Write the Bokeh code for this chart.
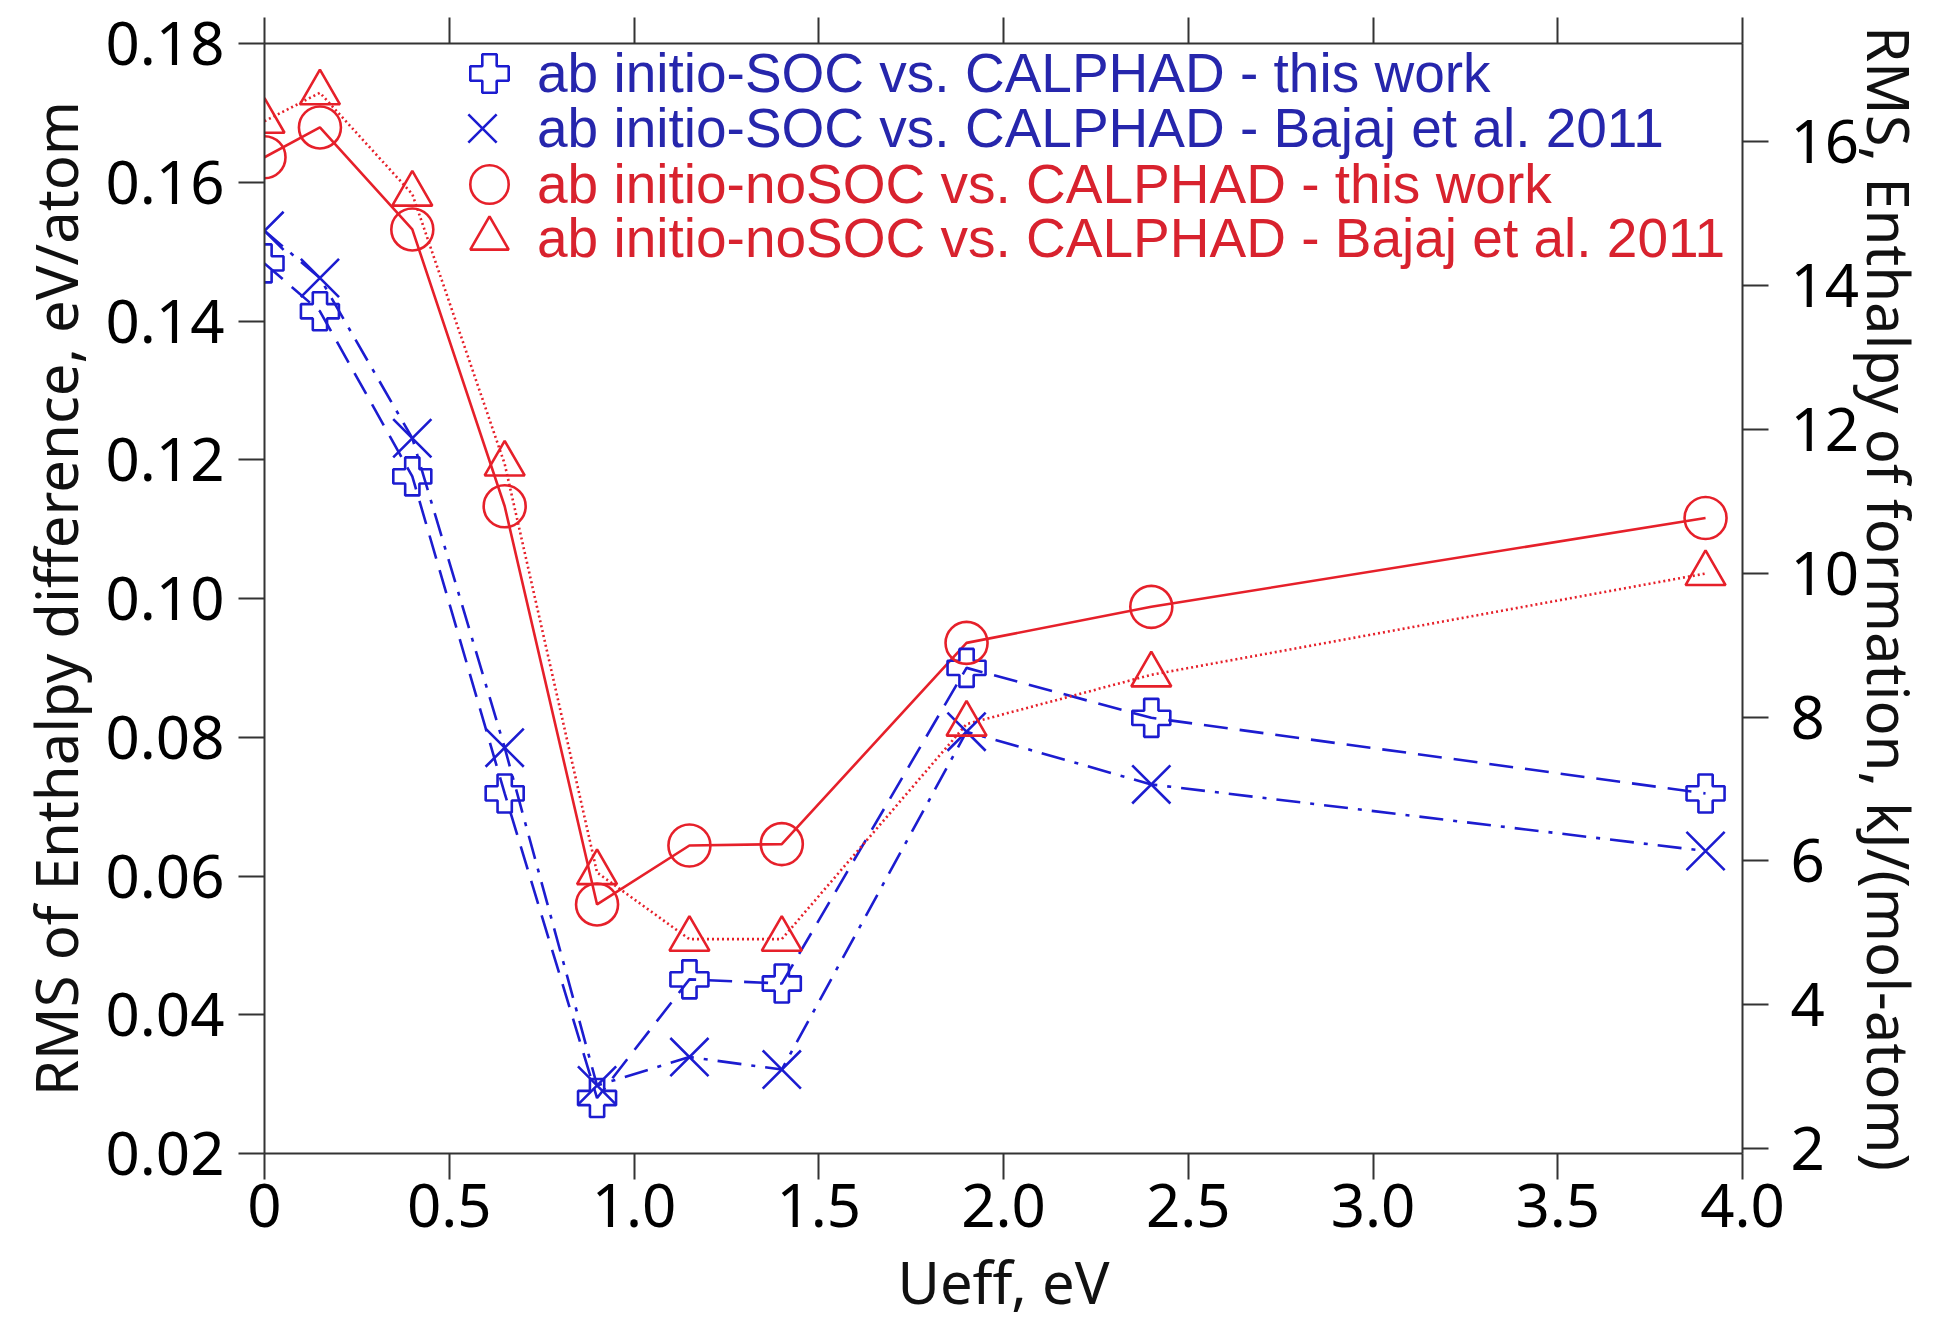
from bokeh.plotting import figure
from bokeh.models import (LinearAxis, Range1d, FixedTicker, Legend, LegendItem,
                          NumeralTickFormatter)
from bokeh.embed import file_html
from bokeh.resources import INLINE

# ---------------- data ----------------
ueff = [0, 0.15, 0.4, 0.65, 0.9, 1.15, 1.4, 1.9, 2.4, 3.9]
soc_this = [0.1483, 0.1414, 0.1176, 0.0719, 0.0280, 0.0451, 0.0445, 0.0900, 0.0828, 0.0719]
soc_bajaj = [0.1530, 0.1462, 0.1231, 0.0785, 0.0298, 0.0339, 0.0321, 0.0808, 0.0732, 0.0636]
nosoc_this = [0.1636, 0.1679, 0.1532, 0.1133, 0.0559, 0.0644, 0.0646, 0.0936, 0.0988, 0.1116]
nosoc_bajaj = [0.1688, 0.1729, 0.1583, 0.1194, 0.0605, 0.0509, 0.0509, 0.0819, 0.0890, 0.1036]

labels = [
    "ab initio-SOC vs. CALPHAD - this work",
    "ab initio-SOC vs. CALPHAD - Bajaj et al. 2011",
    "ab initio-noSOC vs. CALPHAD - this work",
    "ab initio-noSOC vs. CALPHAD - Bajaj et al. 2011",
]
x_title = "Ueff, eV"
y_title = "RMS of Enthalpy difference, eV/atom"
y2_title = "RMS, Enthalpy of formation, kJ/(mol-atom)"
x_ticks = [0, 0.5, 1.0, 1.5, 2.0, 2.5, 3.0, 3.5, 4.0]
y_ticks = [0.02, 0.04, 0.06, 0.08, 0.10, 0.12, 0.14, 0.16, 0.18]
y2_ticks = [2, 4, 6, 8, 10, 12, 14, 16]
EV_TO_KJ = 96.485  # eV/atom -> kJ/(mol-atom)
x_lim = (0, 4.0)
y_lim = (0.02, 0.18)

# ---------------- layout (canvas pixels) ----------------
W, H = 1933, 1325
FL, FR, FT, FB = 264, 1742, 43, 1153          # frame edges

BLUE = "#1c1cd0"
RED = "#e6202a"
BLUE_TXT = "#2626ac"
RED_TXT = "#d8222e"
AX = "#333333"
FONT = "Noto Sans"

p = figure(width=W, height=H, x_range=Range1d(*x_lim), y_range=Range1d(*y_lim),
           output_backend="svg", toolbar_location=None,
           min_border_left=FL, min_border_right=W - FR, min_border_top=FT, min_border_bottom=H - FB,
           x_axis_location=None, y_axis_location=None)
p.outline_line_color = None
p.xgrid.visible = False
p.ygrid.visible = False
p.extra_y_ranges = {"kj": Range1d(y_lim[0] * EV_TO_KJ, y_lim[1] * EV_TO_KJ)}


def style(ax, size="60px"):
    ax.axis_line_color = AX
    ax.axis_line_width = 2
    ax.major_tick_line_color = AX
    ax.major_tick_line_width = 2
    ax.major_tick_out = 26
    ax.major_tick_in = 0
    ax.minor_tick_line_color = None
    ax.major_label_text_font = FONT
    ax.major_label_text_font_size = size
    ax.major_label_text_color = "black"
    ax.axis_label_text_font = FONT
    ax.axis_label_text_font_size = "58px"
    ax.axis_label_text_font_style = "normal"
    ax.axis_label_text_color = "#111111"


xb = LinearAxis(ticker=FixedTicker(ticks=x_ticks), formatter=NumeralTickFormatter(format="0.0"),
                axis_label=x_title)
xb.major_label_overrides = {0: "0"}
style(xb)
xb.major_label_standoff = 4
xb.axis_label_standoff = 12
p.add_layout(xb, "below")

# top axis: ticks only
xt = LinearAxis(ticker=FixedTicker(ticks=x_ticks))
style(xt, size="0px")
xt.major_label_overrides = {t: "" for t in x_ticks}
xt.major_label_standoff = 0
p.add_layout(xt, "above")

yl = LinearAxis(ticker=FixedTicker(ticks=y_ticks), axis_label=y_title,
                formatter=NumeralTickFormatter(format="0.00"))
style(yl)
yl.major_label_standoff = 14
yl.axis_label_standoff = 7
p.add_layout(yl, "left")

yr = LinearAxis(y_range_name="kj", ticker=FixedTicker(ticks=y2_ticks), axis_label=y2_title)
style(yr)
yr.major_label_standoff = 22
yr.axis_label_standoff = -12
p.add_layout(yr, "right")

# ---------------- series ----------------
LW = 2.6
p.line(ueff, soc_this, line_color=BLUE, line_width=LW, line_dash="24 12")
p.line(ueff, soc_bajaj, line_color=BLUE, line_width=LW, line_dash="24 10 4 10")
p.line(ueff, nosoc_this, line_color=RED, line_width=LW)
p.line(ueff, nosoc_bajaj, line_color=RED, line_width=LW, line_dash="2 3")

m1 = p.scatter(ueff, soc_this, marker="plus", size=38, fill_color=None, line_color=BLUE, line_width=LW)
m2 = p.scatter(ueff, soc_bajaj, marker="x", size=54, fill_color=None, line_color=BLUE, line_width=LW)
m3 = p.scatter(ueff, nosoc_this, marker="circle", size=42, fill_color=None, line_color=RED, line_width=LW)
m4 = p.scatter(ueff, nosoc_bajaj, marker="triangle", size=40, fill_color=None, line_color=RED, line_width=LW)

# legend: one Legend per row so that rows sit at the reference spacing
row_centers = [73, 128, 184, 238]
glyph_w = [96, 110, 96, 96]
LABEL_X = 537   # canvas x where the legend labels start
GH = 100
for lab, rend, col, cy, gw in zip(labels, [m1, m2, m3, m4],
                                  [BLUE_TXT, BLUE_TXT, RED_TXT, RED_TXT], row_centers, glyph_w):
    lg = Legend(items=[LegendItem(label=lab, renderers=[rend])],
                location=(LABEL_X - FL - gw, FB - (cy + GH / 2)),
                border_line_color=None, background_fill_alpha=0,
                padding=0, margin=0, spacing=0,
                glyph_width=gw, glyph_height=GH, label_height=GH, label_standoff=0,
                label_text_font="Liberation Sans", label_text_font_size="55px",
                label_text_color=col)
    p.add_layout(lg, "center")

open("out.html", "w").write(file_html(p, INLINE))
